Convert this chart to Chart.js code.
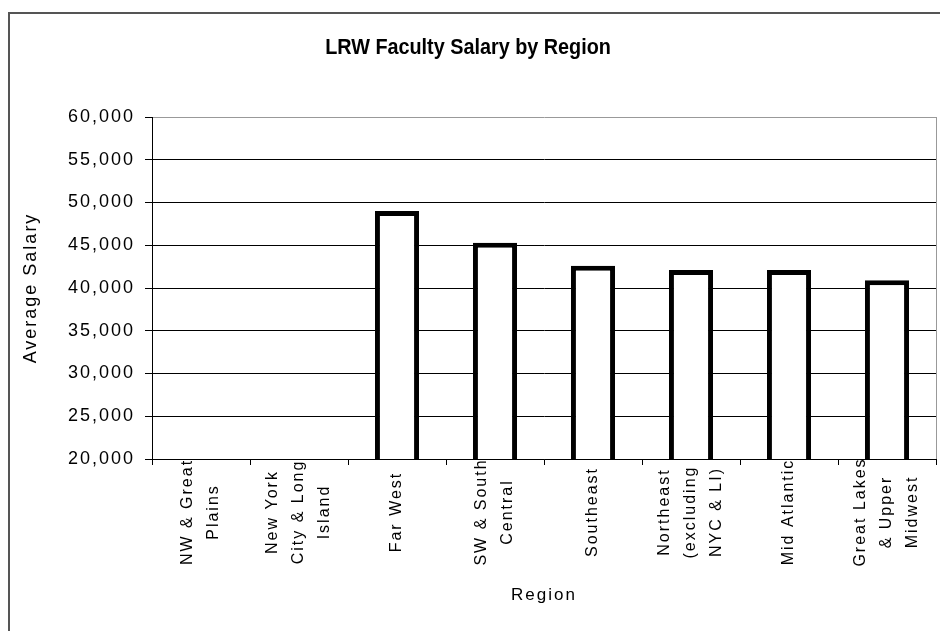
<!DOCTYPE html>
<html>
<head>
<meta charset="utf-8">
<script src="https://cdn.jsdelivr.net/npm/chart.js@4"></script>
<style>
  html, body { margin: 0; padding: 0; background: #fff; overflow: hidden; }
  #frame {
    position: absolute; left: 8px; top: 12px; width: 1000px; height: 700px;
    border-left: 2px solid #555; border-top: 2px solid #555;
  }
  #salaryChart { position: absolute; left: 0; top: 0; }
</style>
</head>
<body>
<div id="frame"></div>
<canvas id="salaryChart" width="940" height="631"></canvas>
<script>
// Chart data
const chartTitle = 'LRW Faculty Salary by Region';
const regions = [
    ['NW & Great', 'Plains'],
    ['New York', 'City & Long', 'Island'],
    ['Far West'],
    ['SW & South', 'Central'],
    ['Southeast'],
    ['Northeast', '(excluding', 'NYC & LI)'],
    ['Mid Atlantic'],
    ['Great Lakes', '& Upper', 'Midwest']
];
const salaries = [null, null, 49000, 45300, 42600, 42100, 42100, 40900];
const yMin = 20000;
const yMax = 60000;
const yStep = 5000;

const FONT = '"Liberation Sans", Arial, sans-serif';
const TITLE_SIZE = 22;
const TITLE_PAD_TOP = 35;

// Old Excel charts space their letters out a bit
const letterSpacing = {
    id: 'letterSpacing',
    beforeUpdate(chart) { chart.ctx.letterSpacing = '2px'; },
    beforeDraw(chart) { chart.ctx.letterSpacing = '2px'; }
};

// Title (narrow bold, no extra spacing) and the rotated category labels,
// each line centred like Excel does
const customText = {
    id: 'customText',
    afterDraw(chart) {
        const { ctx } = chart;

        const tb = chart.titleBlock;
        ctx.save();
        ctx.letterSpacing = '0px';
        ctx.font = 'bold ' + TITLE_SIZE + 'px ' + FONT;
        ctx.fillStyle = '#000';
        ctx.textAlign = 'center';
        ctx.textBaseline = 'middle';
        ctx.translate((tb.left + tb.right) / 2, tb.top + TITLE_PAD_TOP + TITLE_SIZE * 0.6);
        ctx.scale(0.9, 1);
        ctx.fillText(chartTitle, 0, 0);
        ctx.restore();

        const x = chart.scales.x;
        const midY = x.top + 53;
        const lineGap = 26;
        ctx.save();
        ctx.font = '16px ' + FONT;
        ctx.fillStyle = '#000';
        ctx.textAlign = 'center';
        ctx.textBaseline = 'middle';
        regions.forEach((lines, i) => {
            const cx = x.getPixelForValue(i);
            lines.forEach((line, j) => {
                ctx.save();
                ctx.translate(cx + (j - (lines.length - 1) / 2) * lineGap, midY);
                ctx.rotate(-Math.PI / 2);
                ctx.fillText(line, 0, 0);
                ctx.restore();
            });
        });
        ctx.restore();
    }
};

const ctx = document.getElementById('salaryChart').getContext('2d');
new Chart(ctx, {
    type: 'bar',
    data: {
        labels: regions.map(r => r.join(' ')),
        datasets: [{
            label: 'Average Salary',
            data: salaries,
            backgroundColor: '#fff',
            borderColor: '#000',
            borderWidth: 5,
            borderSkipped: false,
            barPercentage: 0.45,
            categoryPercentage: 1
        }]
    },
    options: {
        responsive: false,
        animation: false,
        layout: { padding: { left: 0, right: 4, top: 0, bottom: 0 } },
        plugins: {
            legend: { display: false },
            tooltip: { enabled: false },
            title: {
                display: true,
                text: chartTitle,
                color: 'rgba(0,0,0,0)',
                font: { family: FONT, size: TITLE_SIZE, weight: 'bold', lineHeight: 1.2 },
                padding: { top: TITLE_PAD_TOP, bottom: 117 - TITLE_PAD_TOP - TITLE_SIZE * 1.2 }
            }
        },
        scales: {
            x: {
                grid: {
                    drawOnChartArea: true,
                    color: c => c.type === 'scale' ? '#999' : 'rgba(0,0,0,0)',
                    tickColor: '#000',
                    tickLength: 6
                },
                border: { color: '#000', width: 1 },
                ticks: { display: false },
                title: {
                    display: true,
                    text: 'Region',
                    color: '#000',
                    font: { family: FONT, size: 17 },
                    padding: { top: 4, bottom: 25 }
                },
                afterFit(scale) { scale.height = 172; }
            },
            y: {
                min: yMin,
                max: yMax,
                grid: {
                    color: c => c.tick && c.tick.value === yMax ? '#999' : '#000',
                    tickColor: '#000',
                    tickLength: 7
                },
                border: { color: '#000', width: 1 },
                ticks: {
                    stepSize: yStep,
                    color: '#000',
                    padding: 10,
                    font: { family: FONT, size: 18 },
                    callback: v => v.toLocaleString('en-US')
                },
                title: {
                    display: true,
                    text: 'Average Salary',
                    color: '#000',
                    font: { family: FONT, size: 18 },
                    padding: { top: 20, bottom: 4 }
                },
                afterFit(scale) { scale.width = 152; }
            }
        }
    },
    plugins: [letterSpacing, customText]
});
</script>
</body>
</html>
